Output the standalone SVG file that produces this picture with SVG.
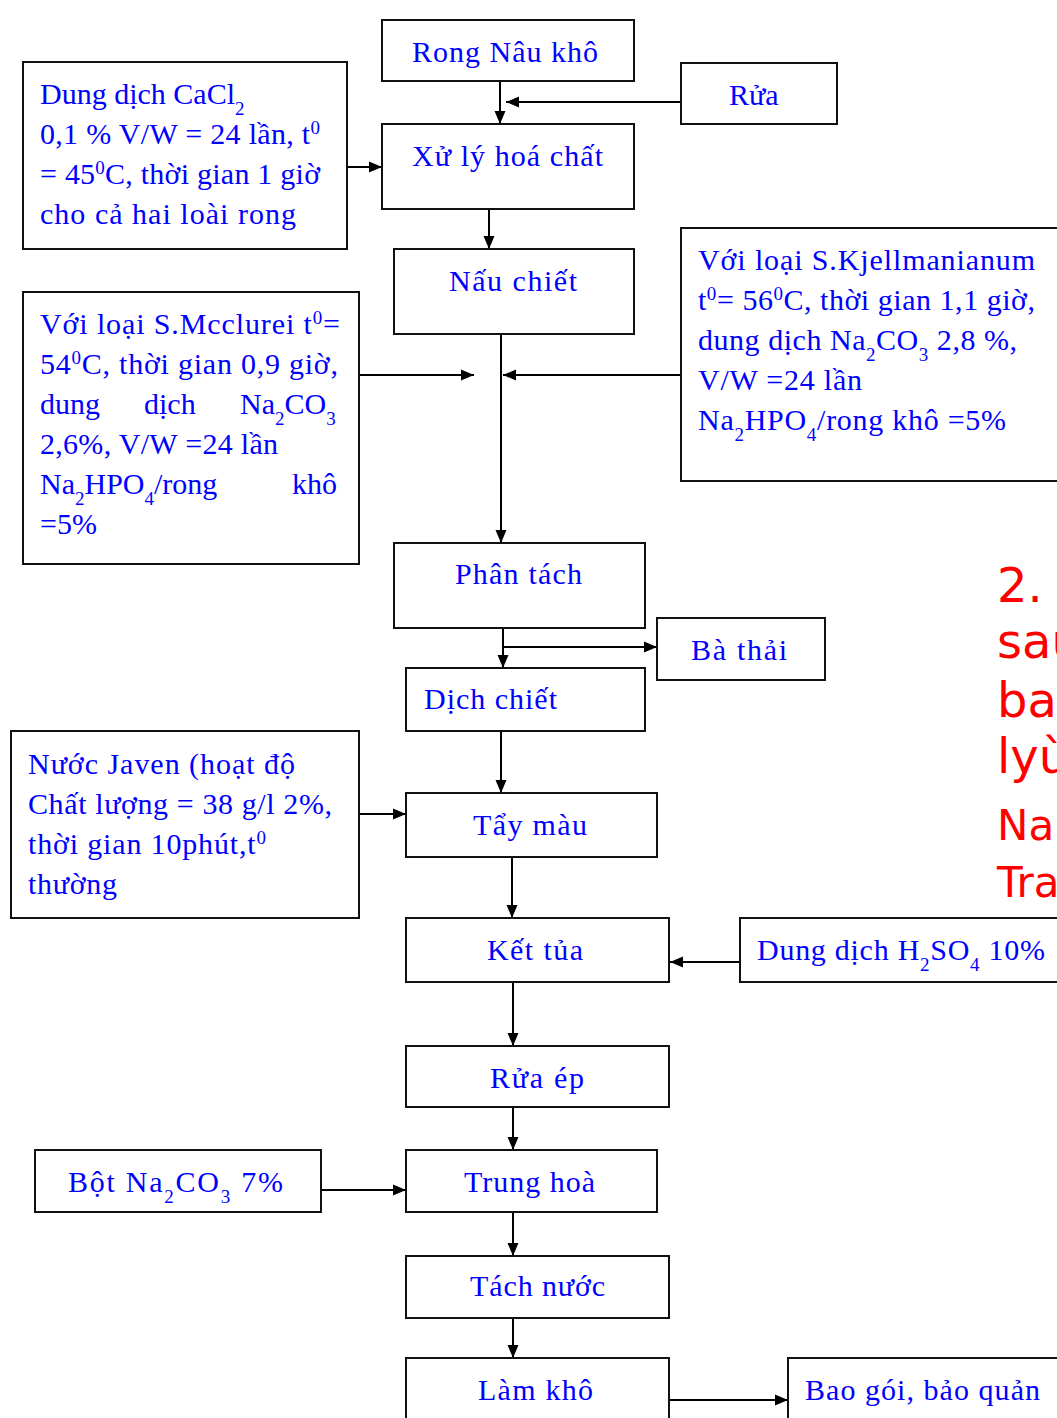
<svg xmlns="http://www.w3.org/2000/svg" width="1057" height="1418" viewBox="0 0 1057 1418">
  <defs>
    <marker id="arrow" markerUnits="userSpaceOnUse" markerWidth="15" markerHeight="13" refX="13" refY="6.5" orient="auto">
      <path d="M0,1 L13,6.5 L0,12 Z" fill="#000"/>
    </marker>
  </defs>
  <style>
    .box { fill: #fff; stroke: #111; stroke-width: 2; }
    .t { font-family: "Liberation Serif", "Times New Roman", serif; font-size: 30px; fill: #0000ff; }
    .s { font-size: 19px; }
    .red { font-family: "DejaVu Sans", "Liberation Sans", sans-serif; fill: #ff0000; }
    #connectors line { stroke: #000; stroke-width: 2; fill: none; }
  </style>
  <rect width="1057" height="1418" fill="#fff"/>

  <!-- connectors -->
  <g id="connectors">
    <line x1="500" y1="81" x2="500" y2="124" marker-end="url(#arrow)"/>
    <line x1="681" y1="102" x2="506" y2="102" marker-end="url(#arrow)"/>
    <line x1="347" y1="167" x2="382" y2="167" marker-end="url(#arrow)"/>
    <line x1="489" y1="209" x2="489" y2="249" marker-end="url(#arrow)"/>
    <line x1="501" y1="334" x2="501" y2="543" marker-end="url(#arrow)"/>
    <line x1="357" y1="375" x2="474" y2="375" marker-end="url(#arrow)"/>
    <line x1="681" y1="375" x2="503" y2="375" marker-end="url(#arrow)"/>
    <line x1="503" y1="628" x2="503" y2="668" marker-end="url(#arrow)"/>
    <line x1="503" y1="647" x2="657" y2="647" marker-end="url(#arrow)"/>
    <line x1="501" y1="731" x2="501" y2="793" marker-end="url(#arrow)"/>
    <line x1="359" y1="814" x2="406" y2="814" marker-end="url(#arrow)"/>
    <line x1="512" y1="857" x2="512" y2="918" marker-end="url(#arrow)"/>
    <line x1="740" y1="962" x2="670" y2="962" marker-end="url(#arrow)"/>
    <line x1="513" y1="982" x2="513" y2="1046" marker-end="url(#arrow)"/>
    <line x1="513" y1="1107" x2="513" y2="1150" marker-end="url(#arrow)"/>
    <line x1="321" y1="1190" x2="406" y2="1190" marker-end="url(#arrow)"/>
    <line x1="513" y1="1212" x2="513" y2="1256" marker-end="url(#arrow)"/>
    <line x1="513" y1="1318" x2="513" y2="1358" marker-end="url(#arrow)"/>
    <line x1="669" y1="1400" x2="788" y2="1400" marker-end="url(#arrow)"/>
  </g>

  <g id="rong-nau-kho">
    <rect class="box" x="382" y="20" width="252" height="61"/>
    <text class="t" x="412" y="62" textLength="186" lengthAdjust="spacing">Rong Nâu khô</text>
  </g>

  <g id="rua">
    <rect class="box" x="681" y="63" width="156" height="61"/>
    <text class="t" x="729" y="105">Rửa</text>
  </g>

  <g id="xu-ly-hoa-chat">
    <rect class="box" x="382" y="124" width="252" height="85"/>
    <text class="t" x="412" y="166" textLength="191" lengthAdjust="spacing">Xử lý hoá chất</text>
  </g>

  <g id="cacl2">
    <rect class="box" x="23" y="62" width="324" height="187"/>
    <text class="t" x="40" y="104">Dung dịch CaCl<tspan class="s" baseline-shift="sub">2</tspan></text>
    <text class="t" x="40" y="144" textLength="280" lengthAdjust="spacing">0,1 % V/W = 24 lần, t<tspan class="s" baseline-shift="super">0</tspan></text>
    <text class="t" x="40" y="184" textLength="280" lengthAdjust="spacing">= 45<tspan class="s" baseline-shift="super">0</tspan>C, thời gian 1 giờ</text>
    <text class="t" x="40" y="224" textLength="256" lengthAdjust="spacing">cho cả hai loài rong</text>
  </g>

  <g id="nau-chiet">
    <rect class="box" x="394" y="249" width="240" height="85"/>
    <text class="t" x="449" y="291" textLength="128" lengthAdjust="spacing">Nấu chiết</text>
  </g>

  <g id="s-kjellmanianum">
    <rect class="box" x="681" y="228" width="390" height="253"/>
    <text class="t" x="698" y="270" textLength="337" lengthAdjust="spacing">Với loại S.Kjellmanianum</text>
    <text class="t" x="698" y="310" textLength="337" lengthAdjust="spacing">t<tspan class="s" baseline-shift="super">0</tspan>= 56<tspan class="s" baseline-shift="super">0</tspan>C, thời gian 1,1 giờ,</text>
    <text class="t" x="698" y="350" textLength="319" lengthAdjust="spacing">dung dịch Na<tspan class="s" baseline-shift="sub">2</tspan>CO<tspan class="s" baseline-shift="sub">3</tspan>  2,8 %,</text>
    <text class="t" x="698" y="390" textLength="164" lengthAdjust="spacing">V/W =24 lần</text>
    <text class="t" x="698" y="430" textLength="308" lengthAdjust="spacing">Na<tspan class="s" baseline-shift="sub">2</tspan>HPO<tspan class="s" baseline-shift="sub">4</tspan>/rong khô =5%</text>
  </g>

  <g id="s-mcclurei">
    <rect class="box" x="23" y="292" width="336" height="272"/>
    <text class="t" x="40" y="334" textLength="300" lengthAdjust="spacing">Với loại S.Mcclurei t<tspan class="s" baseline-shift="super">0</tspan>=</text>
    <text class="t" x="40" y="374" textLength="298" lengthAdjust="spacing">54<tspan class="s" baseline-shift="super">0</tspan>C, thời gian 0,9 giờ,</text>
    <text class="t" x="40" y="414">dung</text>
    <text class="t" x="144" y="414">dịch</text>
    <text class="t" x="240" y="414">Na<tspan class="s" baseline-shift="sub">2</tspan>CO<tspan class="s" baseline-shift="sub">3</tspan></text>
    <text class="t" x="40" y="454" textLength="238" lengthAdjust="spacing">2,6%, V/W =24 lần</text>
    <text class="t" x="40" y="494">Na<tspan class="s" baseline-shift="sub">2</tspan>HPO<tspan class="s" baseline-shift="sub">4</tspan>/rong</text>
    <text class="t" x="292" y="494">khô</text>
    <text class="t" x="40" y="534">=5%</text>
  </g>

  <g id="phan-tach">
    <rect class="box" x="394" y="543" width="251" height="85"/>
    <text class="t" x="455" y="584" textLength="127" lengthAdjust="spacing">Phân tách</text>
  </g>

  <g id="ba-thai">
    <rect class="box" x="657" y="618" width="168" height="62"/>
    <text class="t" x="691" y="660" textLength="96" lengthAdjust="spacing">Bà thải</text>
  </g>

  <g id="dich-chiet">
    <rect class="box" x="406" y="668" width="239" height="63"/>
    <text class="t" x="424" y="709" textLength="133" lengthAdjust="spacing">Dịch chiết</text>
  </g>

  <g id="nuoc-javen">
    <rect class="box" x="11" y="731" width="348" height="187"/>
    <text class="t" x="28" y="774" textLength="267" lengthAdjust="spacing">Nước Javen (hoạt độ</text>
    <text class="t" x="28" y="814" textLength="304" lengthAdjust="spacing">Chất lượng = 38 g/l 2%,</text>
    <text class="t" x="28" y="854" textLength="238" lengthAdjust="spacing">thời gian 10phút,t<tspan class="s" baseline-shift="super">0</tspan></text>
    <text class="t" x="28" y="894" textLength="89" lengthAdjust="spacing">thường</text>
  </g>

  <g id="tay-mau">
    <rect class="box" x="406" y="793" width="251" height="64"/>
    <text class="t" x="473" y="835" textLength="114" lengthAdjust="spacing">Tẩy màu</text>
  </g>

  <g id="ket-tua">
    <rect class="box" x="406" y="918" width="263" height="64"/>
    <text class="t" x="487" y="960" textLength="96" lengthAdjust="spacing">Kết tủa</text>
  </g>

  <g id="h2so4">
    <rect class="box" x="740" y="918" width="330" height="64"/>
    <text class="t" x="757" y="960" textLength="288" lengthAdjust="spacing">Dung dịch H<tspan class="s" baseline-shift="sub">2</tspan>SO<tspan class="s" baseline-shift="sub">4</tspan> 10%</text>
  </g>

  <g id="rua-ep">
    <rect class="box" x="406" y="1046" width="263" height="61"/>
    <text class="t" x="490" y="1088" textLength="94" lengthAdjust="spacing">Rửa ép</text>
  </g>

  <g id="bot-na2co3">
    <rect class="box" x="35" y="1150" width="286" height="62"/>
    <text class="t" x="68" y="1192" textLength="215" lengthAdjust="spacing">Bột Na<tspan class="s" baseline-shift="sub">2</tspan>CO<tspan class="s" baseline-shift="sub">3</tspan>  7%</text>
  </g>

  <g id="trung-hoa">
    <rect class="box" x="406" y="1150" width="251" height="62"/>
    <text class="t" x="464" y="1192" textLength="131" lengthAdjust="spacing">Trung hoà</text>
  </g>

  <g id="tach-nuoc">
    <rect class="box" x="406" y="1256" width="263" height="62"/>
    <text class="t" x="470" y="1296" textLength="135" lengthAdjust="spacing">Tách nước</text>
  </g>

  <g id="lam-kho">
    <rect class="box" x="406" y="1358" width="263" height="80"/>
    <text class="t" x="478" y="1400" textLength="115" lengthAdjust="spacing">Làm khô</text>
  </g>

  <g id="bao-goi">
    <rect class="box" x="788" y="1358" width="290" height="80"/>
    <text class="t" x="805" y="1400" textLength="235" lengthAdjust="spacing">Bao gói, bảo quản</text>
  </g>

  <!-- red caption running off the right edge -->
  <g id="caption" class="red">
    <text x="997" y="602" font-size="48">2.</text>
    <text x="997" y="658" font-size="48">sau</text>
    <text x="997" y="717" font-size="48">bao</text>
    <text x="997" y="773" font-size="48">lyù</text>
    <text x="997" y="840" font-size="42">Na</text>
    <text x="997" y="897" font-size="42">Tra</text>
  </g>
</svg>
